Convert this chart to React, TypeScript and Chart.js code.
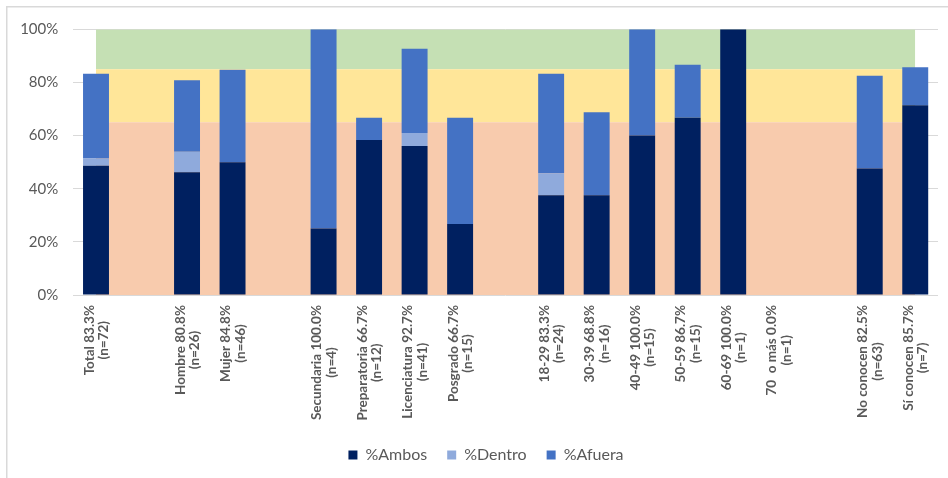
import { useEffect, useRef } from "react";
import { Chart, registerables } from "chart.js";

Chart.register(...registerables);

// Category slots (empty strings are spacer slots between groups)
const groups = [
  "Total", "", "Hombre", "Mujer", "", "Secundaria", "Preparatoria", "Licenciatura", "Posgrado", "",
  "18-29", "30-39", "40-49", "50-59", "60-69", "70  o más", "", "No conocen", "Sí conocen",
];
const totalPct = [
  "83.3", null, "80.8", "84.8", null, "100.0", "66.7", "92.7", "66.7", null,
  "83.3", "68.8", "100.0", "86.7", "100.0", "0.0", null, "82.5", "85.7",
];
const sampleN = [72, null, 26, 46, null, 4, 12, 41, 15, null, 24, 16, 15, 15, 1, 1, null, 63, 7];

// Stacked shares (%)
const ambos = [48.6, null, 46.2, 50.0, null, 25.0, 58.3, 56.1, 26.7, null, 37.5, 37.5, 60.0, 66.7, 100.0, 0, null, 47.6, 71.4];
const dentro = [2.8, null, 7.7, 0, null, 0, 0, 4.9, 0, null, 8.3, 0, 0, 0, 0, 0, null, 0, 0];
const afuera = [31.9, null, 26.9, 34.8, null, 75.0, 8.4, 31.7, 40.0, null, 37.5, 31.3, 40.0, 20.0, 0, 0, null, 34.9, 14.3];

// Background bands (upper limits, %)
const bandLow = 65;
const bandMid = 85;
const bandTop = 100;

// Value axis
const yMin = 0;
const yMax = 100;
const yStep = 20;

const FONT = "Lato, 'Open Sans', sans-serif";
const TEXT = "#595959";

const frame = {
  id: "frame",
  beforeDraw(chart: any) {
    const { ctx } = chart;
    ctx.save();
    ctx.strokeStyle = "#D9D9D9";
    ctx.lineWidth = 1.5;
    ctx.strokeRect(6.75, 6.75, chart.width + 20, chart.height + 20);
    ctx.restore();
  },
};

// Nudge the legend row to the right so it sits under the plot
const legendShift = {
  id: "legendShift",
  afterLayout(chart: any) {
    const lg = chart.legend;
    if (!lg) return;
    lg.left += 12;
    lg.right += 12;
  },
};

const categoryLabels = {
  id: "categoryLabels",
  afterDraw(chart: any) {
    const { ctx, chartArea, scales } = chart;
    const xs = scales.x;
    ctx.save();
    ctx.font = `bold 13.5px ${FONT}`;
    ctx.fillStyle = TEXT;
    ctx.textAlign = "center";
    ctx.textBaseline = "middle";
    groups.forEach((g, i) => {
      if (!g) return;
      const lines = [`${g} ${totalPct[i]}%`, `(n=${sampleN[i]})`];
      const w = Math.max(...lines.map((l) => ctx.measureText(l).width));
      const px = xs.getPixelForValue(i);
      ctx.save();
      ctx.translate(px + 0.5, chartArea.bottom + 10);
      ctx.rotate(-Math.PI / 2);
      lines.forEach((l, k) => ctx.fillText(l, -w / 2, (k - 0.5) * 14.5));
      ctx.restore();
    });
    ctx.restore();
  },
};

export default function App() {
  const ref = useRef<HTMLCanvasElement | null>(null);

  useEffect(() => {
    if (!ref.current) return;
    const bar = (label: string, data: (number | null)[], color: string) => ({
      type: "bar" as const,
      label,
      data,
      backgroundColor: color,
      borderWidth: 0,
      stack: "s",
      order: 0,
      barPercentage: 0.57,
      categoryPercentage: 1,
    });
    const band = (label: string, value: number, color: string, fill: any) => ({
      type: "line" as const,
      label,
      data: groups.map(() => value),
      yAxisID: "yb",
      backgroundColor: color,
      borderWidth: 0,
      pointRadius: 0,
      fill,
      order: 1,
    });

    const chart = new Chart(ref.current, {
      type: "bar",
      data: {
        labels: groups,
        datasets: [
          bar("%Ambos", ambos, "#002060"),
          bar("%Dentro", dentro, "#8FAADC"),
          bar("%Afuera", afuera, "#4472C4"),
          band("bandLow", bandLow, "#F8CBAD", "origin"),
          band("bandMid", bandMid, "#FFE699", "-1"),
          band("bandTop", bandTop, "#C5E0B4", "-1"),
        ] as any,
      },
      options: {
        responsive: false,
        animation: false,
        devicePixelRatio: 1,
        layout: { padding: { left: 10, right: 10, top: 29.3, bottom: 5 } },
        scales: {
          x: {
            stacked: true,
            grid: { display: false },
            border: { display: false },
            ticks: { display: false },
            afterFit: (s: any) => {
              s.height = 132;
            },
          },
          y: {
            stacked: true,
            min: yMin,
            max: yMax,
            grid: { color: "#D9D9D9", lineWidth: 1, drawTicks: false },
            border: { display: false },
            ticks: {
              stepSize: yStep,
              padding: 15,
              color: TEXT,
              font: { family: FONT, size: 15 },
              callback: (v: any) => `${v}%`,
            },
            afterFit: (s: any) => {
              s.width = 63.25;
            },
          },
          yb: {
            display: false,
            min: yMin,
            max: yMax,
          },
        },
        plugins: {
          tooltip: { enabled: false },
          legend: {
            position: "bottom",
            labels: {
              boxWidth: 9,
              boxHeight: 9,
              padding: 20,
              color: TEXT,
              font: { family: FONT, size: 16 },
              filter: (item: any) => item.datasetIndex < 3,
            },
          },
        },
      } as any,
      plugins: [frame, legendShift, categoryLabels],
    });
    return () => chart.destroy();
  }, []);

  return (
    <div style={{ position: "absolute", left: 0, top: 0, width: 948, height: 478, background: "#fff" }}>
      <canvas ref={ref} width={948} height={478} />
    </div>
  );
}
